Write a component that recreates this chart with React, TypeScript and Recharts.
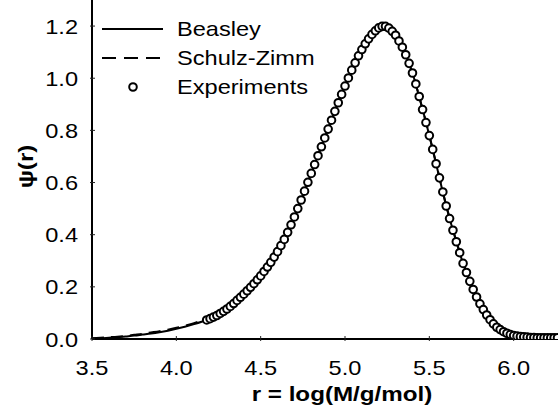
import { ComposedChart, Line, Scatter, XAxis, YAxis, Legend } from 'recharts';

const FONT = "'Liberation Sans', Arial, Helvetica, sans-serif";
const STRETCH = 1.18;

// model curves, r = log(M)
const lineR = [
  3.50, 3.55, 3.60, 3.65, 3.70, 3.75, 3.80, 3.85, 3.90, 3.95,
  4.00, 4.05, 4.10, 4.15, 4.20, 4.25, 4.30, 4.35, 4.40, 4.45,
  4.50, 4.55, 4.60, 4.65, 4.70, 4.75, 4.80, 4.85, 4.90, 4.95,
  5.00, 5.05, 5.10, 5.15, 5.20, 5.25, 5.30, 5.35, 5.40, 5.45,
  5.50, 5.55, 5.60, 5.65, 5.70, 5.75, 5.80, 5.85, 5.90, 5.95,
  6.00, 6.05, 6.10, 6.15, 6.20, 6.25, 6.30,
];
const beasley = [
  0.002, 0.003, 0.005, 0.007, 0.010, 0.013, 0.017, 0.021, 0.026, 0.032,
  0.039, 0.047, 0.056, 0.066, 0.078, 0.094, 0.115, 0.142, 0.172, 0.205,
  0.242, 0.285, 0.335, 0.395, 0.468, 0.550, 0.635, 0.720, 0.805, 0.890,
  0.970, 1.045, 1.110, 1.160, 1.193, 1.197, 1.165, 1.105, 1.020, 0.905,
  0.780, 0.645, 0.510, 0.395, 0.290, 0.205, 0.135, 0.082, 0.045, 0.023,
  0.011, 0.005, 0.002, 0.001, 0.000, 0.000, 0.000,
];
const schulzZimm = [
  0.003, 0.005, 0.007, 0.009, 0.012, 0.016, 0.020, 0.025, 0.030, 0.036,
  0.043, 0.051, 0.060, 0.070, 0.081, 0.096, 0.116, 0.142, 0.171, 0.204,
  0.241, 0.284, 0.334, 0.394, 0.467, 0.550, 0.636, 0.722, 0.807, 0.892,
  0.972, 1.046, 1.111, 1.160, 1.192, 1.196, 1.164, 1.104, 1.019, 0.905,
  0.781, 0.647, 0.513, 0.398, 0.294, 0.209, 0.139, 0.086, 0.049, 0.026,
  0.013, 0.006, 0.003, 0.001, 0.000, 0.000, 0.000,
];

// experimental points
const expR = [
  4.18, 4.20, 4.22, 4.24, 4.26, 4.28, 4.30, 4.32, 4.34, 4.36,
  4.38, 4.40, 4.42, 4.44, 4.46, 4.48, 4.50, 4.52, 4.54, 4.56,
  4.58, 4.60, 4.62, 4.64, 4.66, 4.68, 4.70, 4.72, 4.74, 4.76,
  4.78, 4.80, 4.82, 4.84, 4.86, 4.88, 4.90, 4.92, 4.94, 4.96,
  4.98, 5.00, 5.02, 5.04, 5.06, 5.08, 5.10, 5.12, 5.14, 5.16,
  5.18, 5.20, 5.22, 5.24, 5.26, 5.28, 5.30, 5.32, 5.34, 5.36,
  5.38, 5.40, 5.42, 5.44, 5.46, 5.48, 5.50, 5.52, 5.54, 5.56,
  5.58, 5.60, 5.62, 5.64, 5.66, 5.68, 5.70, 5.72, 5.74, 5.76,
  5.78, 5.80, 5.82, 5.84, 5.86, 5.88, 5.90, 5.92, 5.94, 5.96,
  5.98, 6.00, 6.02, 6.04, 6.06, 6.08, 6.10, 6.12, 6.14, 6.16,
  6.18, 6.20, 6.22, 6.24, 6.26,
];
const expPsi = [
  0.073, 0.078, 0.084, 0.090, 0.098, 0.106, 0.115, 0.125, 0.136, 0.148,
  0.160, 0.172, 0.185, 0.198, 0.212, 0.227, 0.242, 0.259, 0.276, 0.294,
  0.314, 0.335, 0.358, 0.382, 0.409, 0.438, 0.468, 0.500, 0.533, 0.567,
  0.601, 0.635, 0.669, 0.703, 0.737, 0.771, 0.805, 0.839, 0.873, 0.906,
  0.938, 0.970, 1.001, 1.031, 1.059, 1.086, 1.110, 1.132, 1.151, 1.168,
  1.182, 1.193, 1.199, 1.199, 1.192, 1.180, 1.165, 1.143, 1.119, 1.090,
  1.057, 1.020, 0.978, 0.930, 0.880, 0.830, 0.780, 0.727, 0.672, 0.618,
  0.564, 0.510, 0.462, 0.417, 0.373, 0.331, 0.290, 0.255, 0.221, 0.190,
  0.161, 0.135, 0.113, 0.092, 0.074, 0.058, 0.045, 0.036, 0.028, 0.022,
  0.017, 0.013, 0.011, 0.009, 0.008, 0.007, 0.006, 0.006, 0.005, 0.005,
  0.005, 0.005, 0.005, 0.005, 0.005,
];

const xTicks = [3.5, 4.0, 4.5, 5.0, 5.5, 6.0];
const yTicks = [0, 0.2, 0.4, 0.6, 0.8, 1.0, 1.2];

const beasleyData = lineR.map((r, i) => ({ r, psi: beasley[i] }));
const schulzData = lineR.map((r, i) => ({ r, psi: schulzZimm[i] }));
const expData = expR.map((r, i) => ({ r, psi: expPsi[i] }));

function BottomTick({ x, y, payload }: any) {
  return (
    <g>
      <line x1={x} x2={x} y1={y} y2={y - 5} stroke="#222" strokeWidth={1} />
      <text
        transform={`translate(${x},${y + 33.5}) scale(${STRETCH},1)`}
        textAnchor="middle"
        fontSize={20}
        fontFamily={FONT}
        fill="#000"
      >
        {payload.value.toFixed(1)}
      </text>
    </g>
  );
}

function TopTick({ x, y }: any) {
  return <line x1={x} x2={x} y1={y} y2={y + 5} stroke="#222" strokeWidth={1} />;
}

function LeftTick({ x, y, payload }: any) {
  return (
    <g>
      <line x1={x} x2={x + 5} y1={y} y2={y} stroke="#222" strokeWidth={1} />
      <text
        transform={`translate(${x - 12},${y + 7.5}) scale(${STRETCH},1)`}
        textAnchor="end"
        fontSize={20}
        fontFamily={FONT}
        fill="#000"
      >
        {payload.value.toFixed(1)}
      </text>
    </g>
  );
}

function XTitle({ viewBox }: any) {
  const cx = viewBox.x + viewBox.width / 2 - 3;
  return (
    <text
      transform={`translate(${cx},${viewBox.y + 62}) scale(${STRETCH},1)`}
      textAnchor="middle"
      fontSize={20.5}
      fontWeight="bold"
      fontFamily={FONT}
      fill="#000"
    >
      r = log(M/g/mol)
    </text>
  );
}

function YTitle({ viewBox }: any) {
  const cy = viewBox.y + viewBox.height / 2 - 3;
  return (
    <text
      transform={`translate(26,${cy}) rotate(-90) scale(${STRETCH},1)`}
      textAnchor="middle"
      dominantBaseline="central"
      fontSize={20.5}
      fontWeight="bold"
      fontFamily={FONT}
      fill="#000"
    >
      ψ(r)
    </text>
  );
}

function Ring({ cx, cy }: any) {
  return <circle cx={cx} cy={cy} r={3.8} fill="#fff" stroke="#000" strokeWidth={2} />;
}

const legendRows = [
  { label: 'Beasley', kind: 'solid' },
  { label: 'Schulz-Zimm', kind: 'dash' },
  { label: 'Experiments', kind: 'ring' },
];

function LegendBox() {
  return (
    <svg width={330} height={100} style={{ display: 'block' }}>
      {legendRows.map((row, i) => {
        const y = 29 + i * 29;
        return (
          <g key={row.label}>
            {row.kind === 'ring' ? (
              <circle cx={133} cy={y} r={3.8} fill="#fff" stroke="#000" strokeWidth={2} />
            ) : (
              <line
                x1={102}
                x2={163}
                y1={y}
                y2={y}
                stroke="#000"
                strokeWidth={2}
                strokeDasharray={row.kind === 'dash' ? '14 8' : undefined}
              />
            )}
            <text
              transform={`translate(177,${y + 7}) scale(${STRETCH},1)`}
              fontSize={20}
              fontFamily={FONT}
              fill="#000"
            >
              {row.label}
            </text>
          </g>
        );
      })}
    </svg>
  );
}

export default function App() {
  return (
    <div style={{ position: 'absolute', left: 0, top: 0, width: 558, height: 414, overflow: 'hidden', background: '#fff' }}>
      <ComposedChart width={600} height={414} margin={{ top: 0, right: 2, bottom: 0, left: 0 }}>
        <XAxis
          dataKey="r"
          type="number"
          domain={[3.5, 6.5]}
          ticks={xTicks}
          allowDataOverflow
          height={75}
          tickSize={0}
          tickLine={false}
          tick={<BottomTick />}
          axisLine={{ stroke: '#000', strokeWidth: 2 }}
          label={<XTitle />}
        />
        <XAxis
          xAxisId="top"
          orientation="top"
          dataKey="r"
          type="number"
          domain={[3.5, 6.5]}
          ticks={xTicks}
          allowDataOverflow
          height={0}
          tickSize={0}
          tickLine={false}
          tick={<TopTick />}
          axisLine={{ stroke: '#555', strokeWidth: 1 }}
        />
        <YAxis
          dataKey="psi"
          type="number"
          domain={[0, 1.3]}
          ticks={yTicks}
          allowDataOverflow
          width={92}
          tickSize={0}
          tickLine={false}
          tick={<LeftTick />}
          axisLine={{ stroke: '#000', strokeWidth: 2 }}
          label={<YTitle />}
        />
        <Legend
          layout="vertical"
          align="center"
          verticalAlign="middle"
          content={<LegendBox />}
          wrapperStyle={{ left: 0, top: 0, width: 330, height: 100 }}
        />
        <Line
          name="Beasley"
          data={beasleyData}
          dataKey="psi"
          type="monotone"
          stroke="#000"
          strokeWidth={2}
          dot={false}
          isAnimationActive={false}
        />
        <Line
          name="Schulz-Zimm"
          data={schulzData}
          dataKey="psi"
          type="monotone"
          stroke="#000"
          strokeWidth={2}
          strokeDasharray="12 7"
          dot={false}
          isAnimationActive={false}
        />
        <Scatter
          name="Experiments"
          data={expData}
          dataKey="psi"
          shape={<Ring />}
          isAnimationActive={false}
        />
      </ComposedChart>
    </div>
  );
}
